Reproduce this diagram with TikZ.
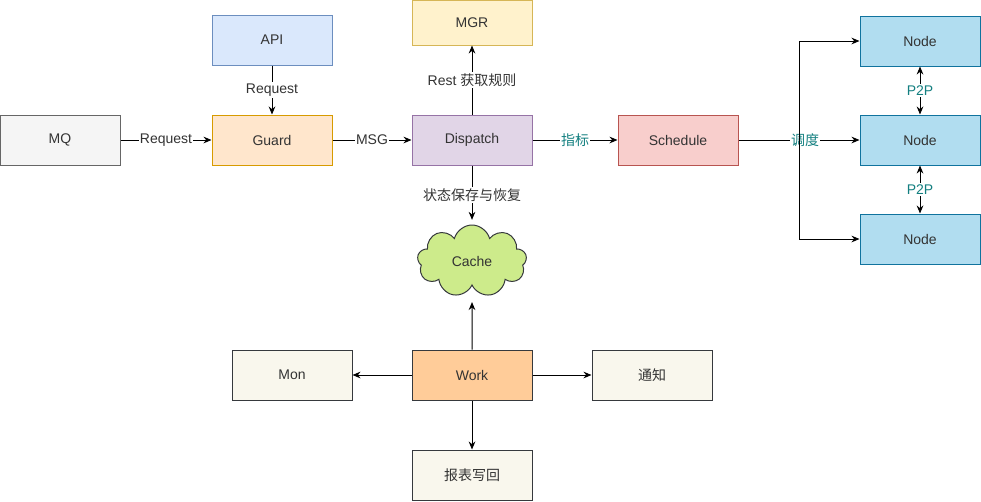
\documentclass[tikz,border=0pt]{standalone}
\usepackage{fontspec}
\setmainfont{Liberation Sans}
\newfontfamily\cjk{Noto Sans CJK SC}
\usepackage{xcolor}
\usetikzlibrary{arrows.meta,positioning,shapes.symbols}

\definecolor{txtgray}{HTML}{333333}
\definecolor{tealtxt}{HTML}{137F80}
\definecolor{mqfill}{HTML}{F5F5F5}\definecolor{mqline}{HTML}{666666}
\definecolor{guardfill}{HTML}{FFE6CC}\definecolor{guardline}{HTML}{D79B00}
\definecolor{apifill}{HTML}{DAE8FC}\definecolor{apiline}{HTML}{6C8EBF}
\definecolor{dispfill}{HTML}{E1D5E7}\definecolor{displine}{HTML}{9673A6}
\definecolor{mgrfill}{HTML}{FFF2CC}\definecolor{mgrline}{HTML}{D6B656}
\definecolor{schedfill}{HTML}{F8CECC}\definecolor{schedline}{HTML}{B85450}
\definecolor{nodefill}{HTML}{B1DDF0}\definecolor{nodeline}{HTML}{10739E}
\definecolor{cachefill}{HTML}{CDEB8B}\definecolor{darkline}{HTML}{36393D}
\definecolor{workfill}{HTML}{FFCC99}
\definecolor{plainfill}{HTML}{F9F7ED}

\begin{document}
\begin{tikzpicture}[x=0.75pt,y=-0.75pt,
    font=\fontsize{10.5}{12}\selectfont,
    box/.style={rectangle,draw,line width=0.75pt,text=txtgray,minimum width=90pt,minimum height=37.5pt,inner sep=0pt},
    arrow/.style={-{Stealth[length=6pt,width=5pt]},line width=0.75pt},
    twoway/.style={{Stealth[length=6pt,width=5pt]}-{Stealth[length=6pt,width=5pt]},line width=0.75pt},
    lbl/.style={fill=white,inner sep=1pt,text=txtgray},
    tlbl/.style={lbl,text=tealtxt}
]
\useasboundingbox (0,0) rectangle (981,501);
% top row
\node[box,fill=mqfill,draw=mqline] (mq) at (60,140) {MQ};
\node[box,fill=guardfill,draw=guardline] (guard) at (272,140) {Guard};
\node[box,fill=apifill,draw=apiline] (api) at (272,40) {API};
\node[box,fill=dispfill,draw=displine] (disp) at (472,140) {Dispatch};
\node[box,fill=mgrfill,draw=mgrline,minimum height=33.75pt] (mgr) at (472,22.5) {MGR};
\node[box,fill=schedfill,draw=schedline] (sched) at (678,140) {Schedule};
% nodes
\node[box,fill=nodefill,draw=nodeline] (n1) at (920,41) {Node};
\node[box,fill=nodefill,draw=nodeline] (n2) at (920,140) {Node};
\node[box,fill=nodefill,draw=nodeline] (n3) at (920,239) {Node};
\coordinate (split) at (799,140);
% cache and work
\node[cloud,cloud puffs=9,aspect=1.6,draw=darkline,line width=0.75pt,fill=cachefill,text=txtgray,
  minimum width=82pt,minimum height=54pt,inner sep=0pt] (cache) at (472,261) {Cache};
\node[box,fill=workfill,draw=darkline] (work) at (472,375) {Work};
\node[box,fill=plainfill,draw=darkline] (mon) at (292,375) {Mon};
\node[box,fill=plainfill,draw=darkline] (notify) at (652,375) {\cjk 通知};
\node[box,fill=plainfill,draw=darkline] (report) at (472,475) {\cjk 报表写回};

\draw[arrow] (mq) -- node[lbl] {Request} (guard);
\draw[arrow] (api) -- node[lbl] {Request} (guard);
\draw[arrow] (guard) -- node[lbl] {MSG} (disp);
\draw[arrow] (disp) -- node[lbl] {Rest {\cjk 获取规则}} (mgr);
\draw[arrow,shorten >=3.5pt] (disp) -- node[lbl] {\cjk 状态保存与恢复} (cache.north);
\draw[arrow] (disp) -- node[tlbl] {\cjk 指标} (sched);
\draw[arrow] (sched) -- node[tlbl,pos=0.55] {\cjk 调度} (n2);
\draw[arrow] (split) |- (n1);
\draw[arrow] (split) |- (n3);
\draw[twoway] (n1) -- node[tlbl] {P2P} (n2);
\draw[twoway] (n2) -- node[tlbl] {P2P} (n3);
\draw[arrow,shorten >=12pt] (work) -- (cache.south);
\draw[arrow] (work) -- (mon);
\draw[arrow] (work) -- (notify);
\draw[arrow] (work) -- (report);
\end{tikzpicture}
\end{document}
